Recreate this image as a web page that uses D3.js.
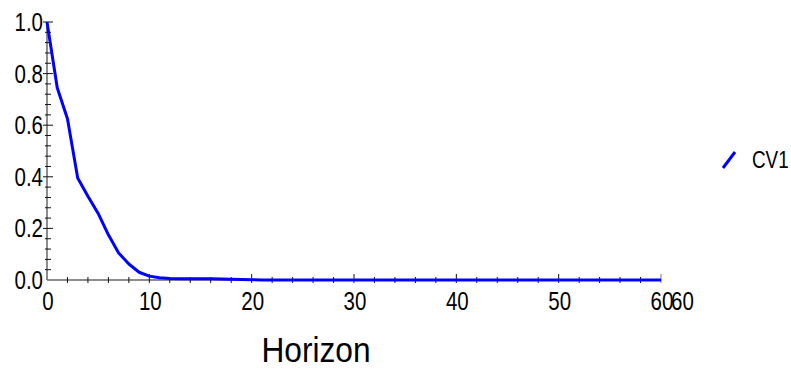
<!DOCTYPE html>
<html>
<head>
  <meta charset="utf-8">
  <title>CV1 Horizon</title>
  <script src="https://d3js.org/d3.v7.min.js"></script>
  <style>
    body { margin: 0; background: #fff; }
    text { font-family: "Liberation Sans Narrow", "Arial Narrow", "Liberation Sans", sans-serif; fill: #000; }
  </style>
</head>
<body>
<script>
  // data
  var horizon = d3.range(0, 61);
  var cv1 = [1.0, 0.745, 0.625, 0.395, 0.325, 0.258, 0.175, 0.105, 0.062, 0.03,
             0.015, 0.009, 0.006, 0.005, 0.005, 0.005, 0.005, 0.004, 0.003, 0.002,
             0.001, 0, 0, 0, 0, 0, 0, 0, 0, 0,
             0, 0, 0, 0, 0, 0, 0, 0, 0, 0,
             0, 0, 0, 0, 0, 0, 0, 0, 0, 0,
             0, 0, 0, 0, 0, 0, 0, 0, 0, 0,
             0];
  var xTickValues = [0, 10, 20, 30, 40, 50, 60];
  var xTickLabels = ["0", "10", "20", "30", "40", "50", "60"];
  var xExtraLabel = [[62.1, "60"]];
  var yTickValues = [0, 0.2, 0.4, 0.6, 0.8, 1.0];
  var yTickLabels = ["0.0", "0.2", "0.4", "0.6", "0.8", "1.0"];
  var seriesName = "CV1";
  var xTitle = "Horizon";

  var width = 791, height = 373;
  var margin = { top: 22, bottom: 93, left: 47, right: 130 };
  var squeeze = 0.82; // no narrow font installed, so condense by hand

  var svg = d3.select("body").append("svg").attr("width", width).attr("height", height);

  var xScale = d3.scaleLinear().domain([0, 60]).range([margin.left, width - margin.right]);
  var yScale = d3.scaleLinear().domain([0, 1]).range([height - margin.bottom, margin.top]);

  var x0 = xScale(0), y0 = yScale(0);

  function place(x, y, s) {
    return "translate(" + x + "," + y + ") scale(" + (s || squeeze) + ",1)";
  }

  // axis lines
  svg.append("line")
    .attr("x1", x0).attr("x2", xScale(60)).attr("y1", y0).attr("y2", y0)
    .attr("stroke", "#666").attr("stroke-width", 1.5);
  svg.append("line")
    .attr("x1", x0).attr("x2", x0).attr("y1", y0).attr("y2", yScale(1))
    .attr("stroke", "#666").attr("stroke-width", 1.5);

  // x ticks (minor every 2, major every 10)
  var xMinor = d3.range(2, 61, 2).filter(function(d) { return d % 10 !== 0; });
  svg.append("g").selectAll("line").data(xMinor).join("line")
    .attr("x1", function(d) { return xScale(d); }).attr("x2", function(d) { return xScale(d); })
    .attr("y1", y0 - 3).attr("y2", y0 + 3)
    .attr("stroke", "#111").attr("stroke-width", 1);
  svg.append("g").selectAll("line").data(xTickValues.slice(1)).join("line")
    .attr("x1", function(d) { return xScale(d); }).attr("x2", function(d) { return xScale(d); })
    .attr("y1", y0 - 6).attr("y2", y0 + 3)
    .attr("stroke", function(d) { return d === 60 ? "#777" : "#111"; }).attr("stroke-width", 1);

  // y ticks (minor every 0.04, major every 0.2)
  var yMinor = d3.range(1, 25).map(function(i) { return i * 0.04; }).filter(function(d, i) { return (i + 1) % 5 !== 0; });
  svg.append("g").selectAll("line").data(yMinor).join("line")
    .attr("x1", x0 - 2).attr("x2", x0 + 4)
    .attr("y1", function(d) { return yScale(d); }).attr("y2", function(d) { return yScale(d); })
    .attr("stroke", "#111").attr("stroke-width", 1);
  svg.append("g").selectAll("line").data(yTickValues.slice(1)).join("line")
    .attr("x1", x0 - 4).attr("x2", x0 + 6)
    .attr("y1", function(d) { return yScale(d); }).attr("y2", function(d) { return yScale(d); })
    .attr("stroke", "#111").attr("stroke-width", 1);

  // tick labels
  svg.append("g").selectAll("text").data(xTickValues).join("text")
    .attr("transform", function(d) { return place(xScale(d) + 1, y0 + 30); })
    .attr("text-anchor", "middle")
    .attr("font-size", "25px")
    .text(function(d, i) { return xTickLabels[i]; });
  svg.append("g").selectAll("text").data(xExtraLabel).join("text")
    .attr("transform", function(d) { return place(xScale(d[0]), y0 + 30); })
    .attr("text-anchor", "middle")
    .attr("font-size", "25px")
    .text(function(d) { return d[1]; });
  svg.append("g").selectAll("text").data(yTickValues).join("text")
    .attr("transform", function(d) { return place(x0 - 4, yScale(d) + 9); })
    .attr("text-anchor", "end")
    .attr("font-size", "25px")
    .text(function(d, i) { return yTickLabels[i]; });

  // axis title
  svg.append("text")
    .attr("transform", place(316, 362, 0.88))
    .attr("text-anchor", "middle")
    .attr("font-size", "36px")
    .text(xTitle);

  // series line
  svg.append("path")
    .datum(horizon)
    .attr("fill", "none")
    .attr("stroke", "#0000ff")
    .attr("stroke-width", 3)
    .attr("stroke-linejoin", "round")
    .attr("d", d3.line()
      .x(function(d) { return xScale(d); })
      .y(function(d, i) { return yScale(cv1[i]); }));

  // legend
  var legend = svg.append("g").attr("transform", "translate(723,152)");
  legend.append("line")
    .attr("x1", 0).attr("y1", 16).attr("x2", 12).attr("y2", 0)
    .attr("stroke", "#0000ff").attr("stroke-width", 3);
  legend.append("text")
    .attr("transform", place(29, 16))
    .attr("font-size", "23px")
    .text(seriesName);
</script>
</body>
</html>
